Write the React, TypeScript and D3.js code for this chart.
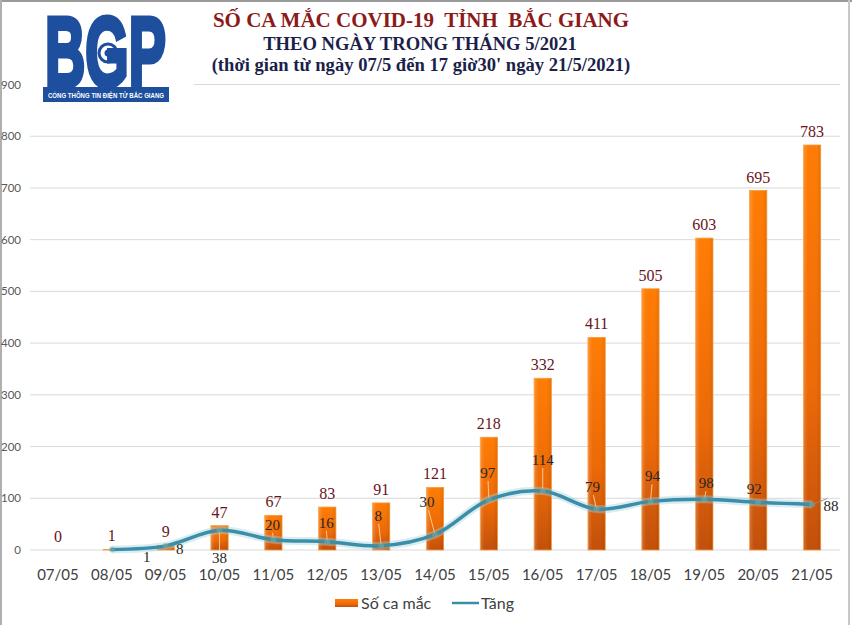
import React from "react";
import * as d3 from "d3";

const dates = ["07/05","08/05","09/05","10/05","11/05","12/05","13/05","14/05","15/05","16/05","17/05","18/05","19/05","20/05","21/05"];
const cases = [0,1,9,47,67,83,91,121,218,332,411,505,603,695,783];
const increases: (number | null)[] = [null,1,8,38,20,16,8,30,97,114,79,94,98,92,88];
const yTicks = [0,100,200,300,400,500,600,700,800,900];
// label placement offsets (dx, dy) relative to line point
const incLabelOffsets = [[0,0],[35,8],[14,3],[0,28],[-1,-15],[-1,-19],[-3,-30],[-8,-32],[-1,-27],[0,-31],[-4,-22],[2,-25],[2,-16],[-4,-13],[19,2]];

const W = 852, H = 625;

export default function App() {
  const x = d3.scaleBand<string>().domain(dates).range([31, 839]).paddingInner(0.68).paddingOuter(0.34);
  const y = d3.scaleLinear().domain([0, 900]).range([550, 84.5]);
  const cx = (d: string) => (x(d) as number) + x.bandwidth() / 2;

  const linePts = increases
    .map((v, i) => (v == null ? null : ([cx(dates[i]), y(v)] as [number, number])))
    .filter((p) => p != null) as [number, number][];
  const lineGen = d3.line().curve(d3.curveCatmullRom.alpha(0.5));
  const linePath = lineGen(linePts) || "";

  const serif = "'Liberation Serif', 'Times New Roman', serif";
  const sans = "Lato, 'Open Sans', sans-serif";

  return (
    <svg width={W} height={H} style={{ position: "absolute", left: 0, top: 0, background: "#fff" }}>
      <defs>
        <linearGradient id="barGrad" x1="0" y1="0" x2="0" y2="1">
          <stop offset="0%" stopColor="#ff7d05" />
          <stop offset="60%" stopColor="#ec6a08" />
          <stop offset="100%" stopColor="#c2500c" />
        </linearGradient>
        <linearGradient id="barEdge" x1="0" y1="0" x2="1" y2="0">
          <stop offset="0%" stopColor="#ffffff" stopOpacity="0.18" />
          <stop offset="25%" stopColor="#ffffff" stopOpacity="0" />
          <stop offset="75%" stopColor="#000000" stopOpacity="0" />
          <stop offset="100%" stopColor="#000000" stopOpacity="0.08" />
        </linearGradient>
      </defs>
      <rect x={0} y={0} width={W} height={H} fill="#fff" />
      {/* frame */}
      <line x1={0} y1={1} x2={W} y2={1} stroke="#9a9a9a" strokeWidth={2} />
      <line x1={1} y1={0} x2={1} y2={H} stroke="#b0b0b0" strokeWidth={2} />
      <line x1={849} y1={0} x2={849} y2={H} stroke="#c8c8c8" strokeWidth={2} />

      {/* gridlines */}
      {yTicks.map((t) => (
        <line key={t} x1={30} x2={840} y1={y(t)} y2={y(t)} stroke="#d9d9d9" strokeWidth={1} />
      ))}
      {/* y tick labels */}
      {yTicks.map((t) => (
        <text key={"yl" + t} x={21} y={y(t) + 4} textAnchor="end" fontFamily={sans} fontSize={11.5} fill="#595959">
          {t}
        </text>
      ))}

      {/* bars */}
      {cases.map((v, i) => {
        const h = 550 - y(v);
        if (h <= 0) return null;
        return (
          <g key={"b" + i}>
            <rect x={x(dates[i])} y={y(v)} width={x.bandwidth()} height={h} fill="url(#barGrad)" stroke="#f99a3a" strokeWidth={0.8} />
            <rect x={x(dates[i])} y={y(v)} width={x.bandwidth()} height={h} fill="url(#barEdge)" />
          </g>
        );
      })}

      {/* bar value labels */}
      {cases.map((v, i) => (
        <text key={"bl" + i} x={cx(dates[i])} y={y(v) - 8} textAnchor="middle" fontFamily={serif} fontSize={16} fill="#6a1420">
          {v}
        </text>
      ))}

      {/* leader lines */}
      {increases.map((v, i) => {
        if (v == null) return null;
        const [dx, dy] = incLabelOffsets[i];
        const px = cx(dates[i]), py = y(v);
        if (Math.abs(dy) < 14 && Math.abs(dx) < 10) return null;
        const onBar = Math.abs(dx) < 10;
        return (
          <line key={"ll" + i} x1={px} y1={py} x2={px + dx * 0.8} y2={py + dy + (dy < 0 ? 8 : -8)}
            stroke={onBar ? "#ffd2a8" : "#8c8c8c"} strokeWidth={1} opacity={0.9} />
        );
      })}

      {/* line glow + line */}
      <path d={linePath} fill="none" stroke="#9fd0de" strokeWidth={8} strokeOpacity={0.4} strokeLinejoin="round" />
      <path d={linePath} fill="none" stroke="#3a8ea8" strokeWidth={3.5} strokeLinejoin="round" strokeLinecap="round" />
      {linePts.map((p, i) => (
        <circle key={"m" + i} cx={p[0]} cy={p[1]} r={3} fill="#7fae9c" opacity={0.5} />
      ))}

      {/* line labels */}
      {increases.map((v, i) => {
        if (v == null) return null;
        const [dx, dy] = incLabelOffsets[i];
        return (
          <text key={"il" + i} x={cx(dates[i]) + dx} y={y(v) + dy + 5} textAnchor="middle" fontFamily={serif} fontSize={15} fill="#262626">
            {v}
          </text>
        );
      })}

      {/* x labels */}
      {dates.map((d) => (
        <text key={"xl" + d} x={cx(d)} y={580} textAnchor="middle" fontFamily={sans} fontSize={15} fill="#404040">
          {d}
        </text>
      ))}

      {/* logo */}
      <rect x={26} y={6} width={168} height={84} fill="#fff" />
      <text x={45} y={86} fontFamily="'Liberation Sans', Arial, sans-serif" fontWeight="bold" fontSize={98}
        textLength={121} lengthAdjust="spacingAndGlyphs" fill="#1d4f9e" stroke="#1d4f9e" strokeWidth={5} strokeLinejoin="miter">BGP</text>
      <circle cx={108} cy={53} r={9} fill="none" stroke="#1d4f9e" strokeWidth={3} />
      <circle cx={108} cy={53} r={3.5} fill="#1d4f9e" />
      <rect x={43} y={87} width={126} height={15} fill="#1d4f9e" />
      <text x={106} y={98} textAnchor="middle" fontFamily="'Liberation Sans', Arial, sans-serif" fontWeight="bold" fontSize={7.5}
        textLength={116} lengthAdjust="spacingAndGlyphs" fill="#fff">CỔNG THÔNG TIN ĐIỆN TỬ BẮC GIANG</text>

      {/* title */}
      <text x={421} y={27} textAnchor="middle" fontFamily={serif} fontWeight="bold" fontSize={21} fill="#8b1a1a" style={{ whiteSpace: "pre" }}>
        SỐ CA MẮC COVID-19  TỈNH  BẮC GIANG
      </text>
      <text x={420} y={50} textAnchor="middle" fontFamily={serif} fontWeight="bold" fontSize={18.6} fill="#1c1f4a">
        THEO NGÀY TRONG THÁNG 5/2021
      </text>
      <text x={421} y={71} textAnchor="middle" fontFamily={serif} fontWeight="bold" fontSize={18.6} fill="#1c1f4a">
        (thời gian từ ngày 07/5 đến 17 giờ30' ngày 21/5/2021)
      </text>

      {/* legend */}
      <rect x={335} y={599} width={23} height={8} fill="url(#barGrad)" />
      <text x={361} y={609} fontFamily={sans} fontSize={16} fill="#404040">Số ca mắc</text>
      <line x1={452} x2={479} y1={603} y2={603} stroke="#3a8ea8" strokeWidth={2.5} />
      <text x={481} y={609} fontFamily={sans} fontSize={16} fill="#404040">Tăng</text>
    </svg>
  );
}
